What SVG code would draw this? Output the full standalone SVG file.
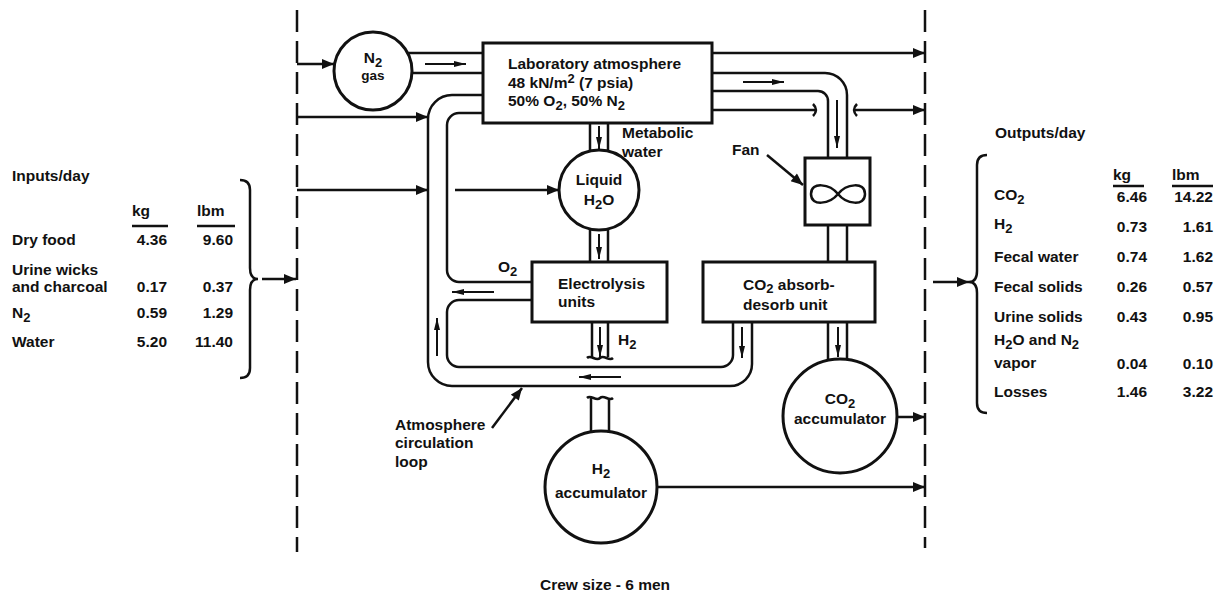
<svg xmlns="http://www.w3.org/2000/svg" width="1219" height="596" viewBox="0 0 1219 596">
<style>
text{font-family:"Liberation Sans",Arial,sans-serif;font-weight:bold;font-size:15.5px;fill:#111}
.sub{font-size:13px}
.sm{font-size:13.5px}
.ln{fill:none;stroke:#111;stroke-width:2.5}
.box{fill:#fff;stroke:#111;stroke-width:3}
.dash{fill:none;stroke:#111;stroke-width:2.5;stroke-dasharray:22 9}
.ar{fill:none;stroke:#111;stroke-width:2.5;marker-end:url(#ah)}
.pa{fill:none;stroke:#111;stroke-width:2;marker-end:url(#sa)}
.mid{text-anchor:middle}
.end{text-anchor:end}
</style>
<defs>
<marker id="ah" viewBox="0 0 12 10" refX="12" refY="5" markerWidth="13" markerHeight="10" markerUnits="userSpaceOnUse" orient="auto"><path d="M0,0 L12,5 L0,10 z" fill="#111"/></marker>
<marker id="sa" viewBox="0 0 12 6" refX="12" refY="3" markerWidth="13" markerHeight="6" markerUnits="userSpaceOnUse" orient="auto"><path d="M0,0 L12,3 L0,6 z" fill="#111"/></marker>
</defs>
<rect width="1219" height="596" fill="#fff"/>

<g id="boundaries">
<path class="dash" d="M297,10 V552"/>
<path class="dash" d="M925,10 V548"/>
</g>

<g id="connectors">
<path class="ar" d="M297,64 H334"/>
<path class="ar" d="M297,117 H428"/>
<path class="ar" d="M297,190 H428"/>
<path class="ar" d="M455,190 H559"/>
<path class="ln" d="M408,53 H483 M412,73 H483"/>
<path class="pa" d="M425,64 H466"/>
<path class="ln" d="M483,95 H452 A24,24 0 0 0 428,119 V362 A24,24 0 0 0 452,386 H730 A22,22 0 0 0 752,364 V322"/>
<path class="ln" d="M483,113 H459 A12,12 0 0 0 447,125 V270 A12,12 0 0 0 459,282 H532"/>
<path class="ln" d="M532,300 H459 A12,12 0 0 0 447,312 V355 A12,12 0 0 0 459,367 H721 A12,12 0 0 0 733,355 V322"/>
<path class="pa" d="M494,292 H452"/>
<path class="pa" d="M437,356 V318"/>
<path class="pa" d="M621,377 H579"/>
<path class="pa" d="M742,327 V358"/>
<path class="ar" d="M712,53 H925"/>
<path class="ln" d="M712,73 H825 A22,22 0 0 1 847,95 V158"/>
<path class="ln" d="M712,91 H818 A10,10 0 0 1 828,101 V158"/>
<path class="pa" d="M743,82 H784"/>
<path class="pa" d="M837,100 V148"/>
<path class="ln" d="M712,110 H816"/>
<path class="ln" d="M813,104 Q819,110 813,116"/>
<path class="ln" d="M857,104 Q851,110 857,116"/>
<path class="ar" d="M854,110 H925"/>
<path class="ln" d="M590,122 V151 M608,122 V151"/>
<path class="pa" d="M599,126 V149"/>
<path class="ln" d="M590,229 V262 M608,229 V262"/>
<path class="pa" d="M599,234 V259"/>
<path class="ln" d="M592,322 V357 M608,322 V357"/>
<path class="ln" d="M587,358 C591,354 596,362 600,358 C604,354 609,362 613,358"/>
<path class="pa" d="M600,327 V357"/>
<path class="ln" d="M587,398 C591,394 596,402 600,398 C604,394 609,402 613,398"/>
<path class="ln" d="M591,398 V433 M609,398 V433"/>
<path class="ln" d="M828,225 V262 M847,225 V262"/>
<path class="ln" d="M828,322 V360 M847,322 V360"/>
<path class="pa" d="M838,327 V357"/>
<path class="ar" d="M897,417 H925"/>
<path class="ar" d="M657,487 H925"/>
<path class="ar" d="M767,155 L803,185"/>
<path class="ar" d="M492,428 L522,388"/>
<path class="ar" d="M262,279 H296"/>
<path class="ar" d="M933,282 H969"/>
</g>

<g id="n2gas">
<circle cx="373" cy="71" r="39" fill="#fff" stroke="#111" stroke-width="3"/>
<text x="373" y="63" class="mid">N<tspan class="sub" dy="4">2</tspan></text>
<text x="373" y="80" class="mid sm">gas</text>
</g>

<g id="lab">
<rect class="box" x="483" y="43" width="229" height="80"/>
<text x="508" y="69">Laboratory atmosphere</text>
<text x="508" y="88">48 kN/m<tspan class="sub" dy="-5">2</tspan><tspan dy="5"> (7 psia)</tspan></text>
<text x="508" y="106">50% O<tspan class="sub" dy="4">2</tspan><tspan dy="-4">, 50% N</tspan><tspan class="sub" dy="4">2</tspan></text>
</g>

<g id="metabolic">
<text x="622" y="138">Metabolic</text>
<text x="622" y="157">water</text>
</g>

<g id="liquid">
<circle cx="599" cy="190" r="40" fill="#fff" stroke="#111" stroke-width="3"/>
<text x="599" y="185" class="mid">Liquid</text>
<text x="599" y="205" class="mid">H<tspan class="sub" dy="4">2</tspan><tspan dy="-4">O</tspan></text>
</g>

<g id="electrolysis">
<rect class="box" x="532" y="262" width="135" height="60"/>
<text x="558" y="289">Electrolysis</text>
<text x="558" y="307">units</text>
<text x="498" y="272">O<tspan class="sub" dy="4">2</tspan></text>
<text x="618" y="345">H<tspan class="sub" dy="4">2</tspan></text>
</g>

<g id="fan">
<rect class="box" x="805" y="158" width="65" height="67"/>
<path class="ln" d="M838,194 C830,184 811,181 811,194 C811,207 830,204 838,194 C846,184 865,181 865,194 C865,207 846,204 838,194 Z"/>
<text x="732" y="155">Fan</text>
</g>

<g id="co2unit">
<rect class="box" x="703" y="262" width="172" height="60"/>
<text x="743" y="290">CO<tspan class="sub" dy="3">2</tspan><tspan dy="-3"> absorb-</tspan></text>
<text x="743" y="310">desorb unit</text>
</g>

<g id="co2acc">
<circle cx="840" cy="416" r="57" fill="none" stroke="#111" stroke-width="3"/>
<text x="840" y="404" class="mid">CO<tspan class="sub" dy="4">2</tspan></text>
<text x="840" y="424" class="mid">accumulator</text>
</g>

<g id="h2acc">
<circle cx="601" cy="487" r="56" fill="none" stroke="#111" stroke-width="3"/>
<text x="601" y="474" class="mid">H<tspan class="sub" dy="4">2</tspan></text>
<text x="601" y="498" class="mid">accumulator</text>
</g>

<g id="looplabel">
<text x="395" y="430">Atmosphere</text>
<text x="395" y="448">circulation</text>
<text x="395" y="467">loop</text>
</g>

<g id="inputs">
<text x="12" y="181">Inputs/day</text>
<text x="132" y="216">kg</text>
<text x="197" y="216">lbm</text>
<path class="ln" d="M132,226 H168 M197,226 H235"/>
<text x="12" y="245">Dry food</text>
<text x="167" y="245" class="end">4.36</text>
<text x="233" y="245" class="end">9.60</text>
<text x="12" y="275">Urine wicks</text>
<text x="12" y="292">and charcoal</text>
<text x="167" y="292" class="end">0.17</text>
<text x="233" y="292" class="end">0.37</text>
<text x="12" y="318">N<tspan class="sub" dy="4">2</tspan></text>
<text x="167" y="318" class="end">0.59</text>
<text x="233" y="318" class="end">1.29</text>
<text x="12" y="347">Water</text>
<text x="167" y="347" class="end">5.20</text>
<text x="233" y="347" class="end">11.40</text>
<path class="ln" stroke-width="3" d="M240,180 Q250,180 250,190 V268 Q250,279 258,279 Q250,279 250,290 V368 Q250,378 240,378"/>
</g>

<g id="outputs">
<text x="995" y="138">Outputs/day</text>
<text x="1113" y="180">kg</text>
<text x="1172" y="180">lbm</text>
<path class="ln" d="M1113,186 H1144 M1172,186 H1213"/>
<text x="994" y="200">CO<tspan class="sub" dy="4">2</tspan></text>
<text x="1147" y="202" class="end">6.46</text>
<text x="1213" y="202" class="end">14.22</text>
<text x="994" y="229">H<tspan class="sub" dy="4">2</tspan></text>
<text x="1147" y="232" class="end">0.73</text>
<text x="1213" y="232" class="end">1.61</text>
<text x="994" y="262">Fecal water</text>
<text x="1147" y="262" class="end">0.74</text>
<text x="1213" y="262" class="end">1.62</text>
<text x="994" y="292">Fecal solids</text>
<text x="1147" y="292" class="end">0.26</text>
<text x="1213" y="292" class="end">0.57</text>
<text x="994" y="322">Urine solids</text>
<text x="1147" y="322" class="end">0.43</text>
<text x="1213" y="322" class="end">0.95</text>
<text x="994" y="345">H<tspan class="sub" dy="4">2</tspan><tspan dy="-4">O and N</tspan><tspan class="sub" dy="4">2</tspan></text>
<text x="994" y="368">vapor</text>
<text x="1147" y="369" class="end">0.04</text>
<text x="1213" y="369" class="end">0.10</text>
<text x="994" y="397">Losses</text>
<text x="1147" y="397" class="end">1.46</text>
<text x="1213" y="397" class="end">3.22</text>
<path class="ln" stroke-width="3" d="M987,155 Q977,155 977,165 V271 Q977,282 969,282 Q977,282 977,293 V403 Q977,413 987,413"/>
</g>

<g id="caption">
<text x="540" y="590">Crew size - 6 men</text>
</g>
</svg>
